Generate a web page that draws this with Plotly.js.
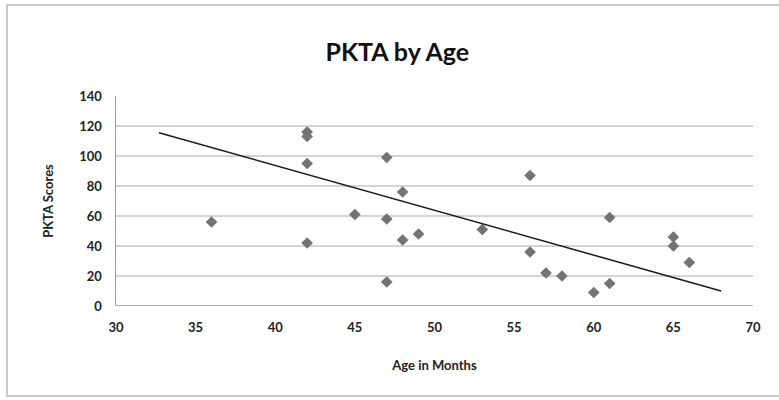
<!DOCTYPE html>
<html>
<head>
<meta charset="utf-8">
<script src="https://cdn.plot.ly/plotly-3.0.1.min.js"></script>
<style>
  html, body { margin: 0; padding: 0; background: #ffffff; overflow: hidden; }
  #frame { position: absolute; left: 6px; top: 4px; width: 1000px; height: 393px; border-top: 2px solid #c8c8c8; border-left: 2px solid #c8c8c8; border-bottom: 2px solid #c8c8c8; box-sizing: border-box; }
  #chart { position: absolute; left: 0; top: 0; width: 779px; height: 400px; }
</style>
</head>
<body>
<div id="frame"></div>
<div id="chart"></div>
<script>
// Data
const ageMonths = [36, 42, 42, 42, 42, 45, 47, 47, 47, 48, 48, 49, 53, 56, 56, 57, 58, 60, 61, 61, 65, 65, 66];
const pktaScores = [56, 116, 113, 95, 42, 61, 99, 58, 16, 76, 44, 48, 51, 87, 36, 22, 20, 9, 59, 15, 46, 40, 29];
// Trendline endpoints as drawn in the reference
const trendAge = [32.7, 68];
const trendScore = [115.5, 10];
const xTicks = [30, 35, 40, 45, 50, 55, 60, 65, 70];
const yTicks = [0, 20, 40, 60, 80, 100, 120, 140];

const font = "Lato, 'Open Sans', sans-serif";

const traces = [
  {
    x: ageMonths, y: pktaScores, type: 'scatter', mode: 'markers',
    marker: { symbol: 'diamond', size: 9, color: '#737373' },
    showlegend: false, hoverinfo: 'x+y'
  },
  {
    x: trendAge, y: trendScore, type: 'scatter', mode: 'lines',
    line: { color: '#1a1a1a', width: 1.5 },
    showlegend: false, hoverinfo: 'skip'
  }
];

const layout = {
  width: 779, height: 400,
  margin: { l: 116, r: 26, t: 96, b: 94 },
  paper_bgcolor: 'rgba(0,0,0,0)',
  plot_bgcolor: '#ffffff',
  font: { family: font, color: '#222222' },
  title: {
    text: '<b>PKTA by Age</b>',
    font: { family: font, size: 25, color: '#111111' },
    x: 0.51, xanchor: 'center', y: 0.87, yanchor: 'middle'
  },
  xaxis: {
    range: [30, 70], tickvals: xTicks, ticktext: xTicks.map(String),
    showgrid: false, zeroline: false,
    showline: false, ticks: '', ticklabelstandoff: 12,
    tickfont: { family: font, size: 13, color: '#222222', weight: 'bold' },
    title: { text: '<b>Age in Months</b>', font: { family: font, size: 13, color: '#222222' }, standoff: 26 }
  },
  yaxis: {
    range: [0, 140], tickvals: yTicks, ticktext: yTicks.map(String),
    showgrid: true, gridcolor: '#d4d4d4', gridwidth: 2.5,
    zeroline: false,
    showline: true, linecolor: '#9a9a9a', linewidth: 1.5,
    ticks: '', ticklabelstandoff: 10,
    tickfont: { family: font, size: 13, color: '#222222', weight: 'bold' },
    title: { text: '<b>PKTA Scores</b>', font: { family: font, size: 13, color: '#222222' }, standoff: 22 }
  },
  shapes: [
    { type: 'line', xref: 'paper', yref: 'y', x0: 0, x1: 1, y0: 0, y1: 0,
      line: { color: '#9a9a9a', width: 1.5 }, layer: 'below' }
  ]
};

Plotly.newPlot('chart', traces, layout, { displayModeBar: false, staticPlot: true });
</script>
</body>
</html>
